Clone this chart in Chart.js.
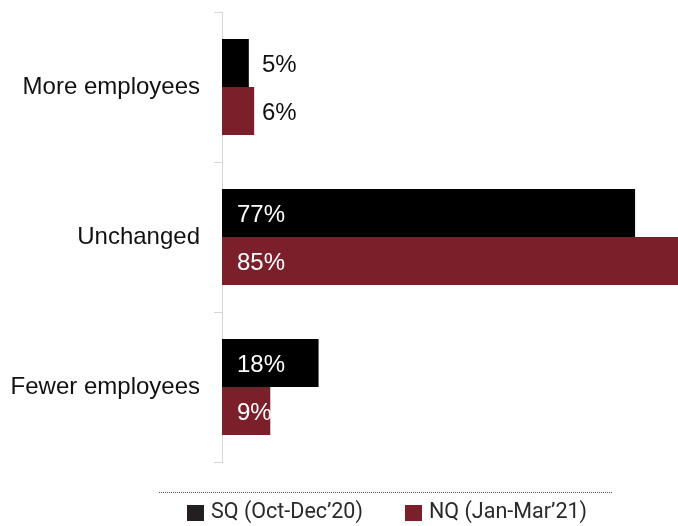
<!DOCTYPE html>
<html>
<head>
<meta charset="utf-8">
<script src="https://cdn.jsdelivr.net/npm/chart.js@4/dist/chart.umd.min.js"></script>
<style>
  html, body { margin: 0; padding: 0; background: #fff; }
  #wrap { width: 678px; height: 526px; position: relative; }
</style>
</head>
<body>
<div id="wrap"><canvas id="employeesChart"></canvas></div>
<script>
const categories = ['More employees', 'Unchanged', 'Fewer employees'];
const sqValues = [5, 77, 18];
const nqValues = [6, 85, 9];
const seriesNames = ['SQ (Oct-Dec’20)', 'NQ (Jan-Mar’21)'];

const sqColor = '#000000';
const nqColor = '#7b1f2b';

// percentage labels: white inside long bars, dark just past short ones
const valueLabels = {
    id: 'valueLabels',
    afterDatasetsDraw(chart) {
        const ctx = chart.ctx;
        ctx.save();
        ctx.font = '24px "Liberation Sans", Arial, sans-serif';
        ctx.textBaseline = 'middle';
        ctx.textAlign = 'left';
        chart.data.datasets.forEach((ds, i) => {
            const meta = chart.getDatasetMeta(i);
            meta.data.forEach((bar, j) => {
                const v = ds.data[j];
                const txt = v + '%';
                if (v < 8) {
                    ctx.fillStyle = '#111';
                    ctx.fillText(txt, bar.base + 40, bar.y + 2);
                } else {
                    ctx.fillStyle = '#fff';
                    ctx.fillText(txt, bar.base + 15, bar.y + 2);
                }
            });
        });
        ctx.restore();
    }
};

// dotted rule and legend under the plot
const bottomLegend = {
    id: 'bottomLegend',
    afterDraw(chart) {
        const ctx = chart.ctx;
        const area = chart.chartArea;
        ctx.save();
        ctx.strokeStyle = '#555';
        ctx.lineWidth = 1;
        ctx.setLineDash([1, 1]);
        ctx.beginPath();
        ctx.moveTo(159, area.bottom + 30.5);
        ctx.lineTo(613, area.bottom + 30.5);
        ctx.stroke();
        ctx.setLineDash([]);

        const items = [
            { x: 187, color: '#231f20', text: chart.data.datasets[0].label },
            { x: 405, color: nqColor, text: chart.data.datasets[1].label }
        ];
        ctx.font = '21.5px Roboto, sans-serif';
        ctx.textBaseline = 'middle';
        ctx.textAlign = 'left';
        items.forEach(it => {
            ctx.fillStyle = it.color;
            ctx.fillRect(it.x, area.bottom + 43, 17, 16);
            ctx.fillStyle = '#2a2a2a';
            ctx.fillText(it.text, it.x + 24, area.bottom + 51);
        });
        ctx.restore();
    }
};

new Chart(document.getElementById('employeesChart'), {
    type: 'bar',
    data: {
        labels: categories,
        datasets: [
            { label: seriesNames[0], data: sqValues, backgroundColor: sqColor },
            { label: seriesNames[1], data: nqValues, backgroundColor: nqColor }
        ]
    },
    options: {
        indexAxis: 'y',
        responsive: true,
        maintainAspectRatio: false,
        animation: false,
        layout: { padding: { top: 12, bottom: 64, left: 0, right: 0 } },
        datasets: {
            bar: { categoryPercentage: 0.64, barPercentage: 1.0 }
        },
        scales: {
            x: {
                display: false,
                min: 0,
                max: 85
            },
            y: {
                afterFit: s => {
                    s.width = 222;
                    s.paddingTop = 0;
                    s.paddingBottom = 0;
                },
                border: { display: true, color: '#d6d6d6', width: 1 },
                grid: {
                    offset: true,
                    drawOnChartArea: false,
                    drawTicks: true,
                    tickLength: 8,
                    color: '#d6d6d6'
                },
                ticks: {
                    padding: 14,
                    color: '#111',
                    font: { family: '"Liberation Sans", Arial, sans-serif', size: 24 }
                }
            }
        },
        plugins: {
            legend: { display: false },
            tooltip: { enabled: false }
        }
    },
    plugins: [valueLabels, bottomLegend]
});
</script>
</body>
</html>
